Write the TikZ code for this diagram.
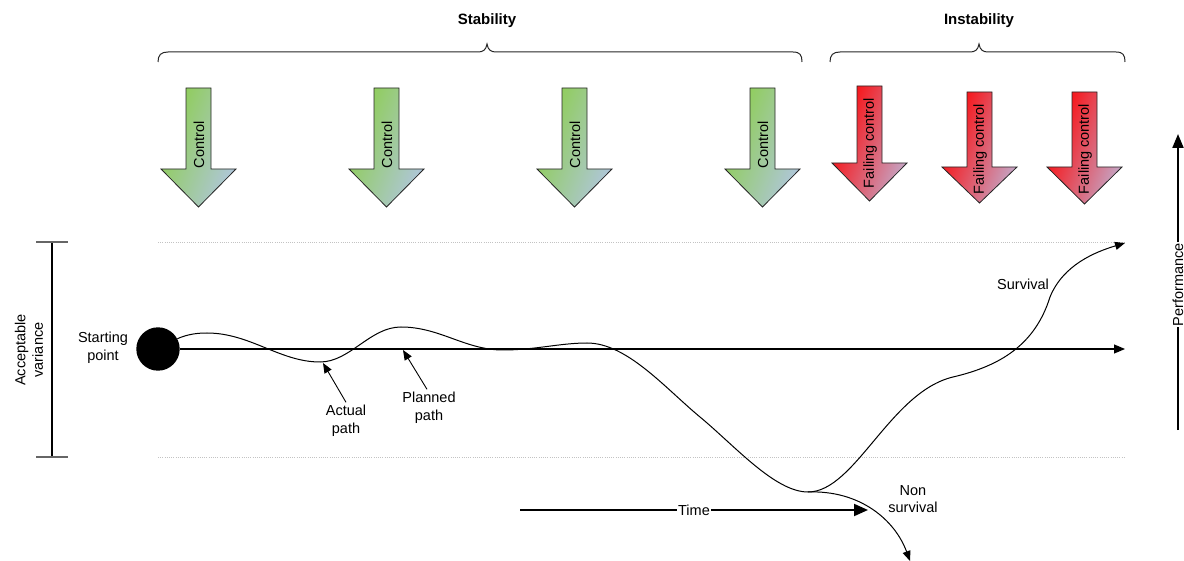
\documentclass[tikz,border=0pt]{standalone}
\usepackage{fontspec}
\setmainfont{Liberation Sans}
\usetikzlibrary{arrows.meta}
\definecolor{ctrlgreen}{RGB}{140,206,76}
\definecolor{ctrlgray}{RGB}{176,198,220}
\definecolor{failred}{RGB}{255,0,0}
\definecolor{failgray}{RGB}{196,168,200}
\definecolor{dotgray}{RGB}{195,195,195}
\tikzset{
  lbl/.style={font=\fontsize{14.5}{17.5}\selectfont, align=center, inner sep=1pt},
  headlbl/.style={font=\fontsize{15}{18}\selectfont\bfseries, inner sep=1pt},
  bracepath/.style={line width=1pt, black!85},
  guide/.style={dash pattern=on 1pt off 1.2pt, dotgray, line width=0.8pt},
  pathline/.style={line width=1pt, black},
  smalltip/.style={-{Triangle[length=10pt,width=8pt]}},
  pics/bigarrow/.style n args={5}{code={
    \shadedraw[draw=black!85, line width=0.8pt, left color=#3, right color=#4, shading angle=70]
      (-12.5,0) -- (12.5,0) -- (12.5,#1) -- (37.5,#1) -- (0,#2) -- (-37.5,#1) -- (-12.5,#1) -- cycle;
    \node[lbl, rotate=90] (-label) at (0.5,57) {#5};
  }}
}
\begin{document}
\begin{tikzpicture}[x=1pt,y=-1pt]
\useasboundingbox (0,0) rectangle (1184,561);

% braces and headings
\node[headlbl] (stab) at (487,21) {Stability};
\node[headlbl] (instab) at (979,21) {Instability};
\draw[bracepath] (158,62) .. controls (158,55) and (161,52) .. (168,52) -- (478,52)
  .. controls (483,52) and (486,50) .. (487,44) .. controls (488,50) and (491,52) .. (496,52)
  -- (793,52) .. controls (800,52) and (802,55) .. (802,62);
\draw[bracepath] (830,62) .. controls (830,55) and (833,52) .. (840,52) -- (970,52)
  .. controls (975,52) and (978,50) .. (979,44) .. controls (980,50) and (983,52) .. (988,52)
  -- (1116,52) .. controls (1123,52) and (1125,55) .. (1125,62);

% control arrows
\pic (c1) at (198.5,88) {bigarrow={81}{119}{ctrlgreen}{ctrlgray}{Control}};
\pic (c2) at (386.5,88) {bigarrow={81}{119}{ctrlgreen}{ctrlgray}{Control}};
\pic (c3) at (574.5,88) {bigarrow={81}{119}{ctrlgreen}{ctrlgray}{Control}};
\pic (c4) at (762.5,88) {bigarrow={81}{119}{ctrlgreen}{ctrlgray}{Control}};
\pic (f1) at (869.5,86) {bigarrow={77}{115}{failred}{failgray}{Failing control}};
\pic (f2) at (979.5,92) {bigarrow={75}{111}{failred}{failgray}{Failing control}};
\pic (f3) at (1084.5,92) {bigarrow={75}{112}{failred}{failgray}{Failing control}};

% acceptable variance guides
\draw[guide] (158,242) -- (1125,242);
\draw[guide] (158,457) -- (1125,457);
\coordinate (vtop) at (52,242);
\coordinate (vbot) at (52,457);
\draw[line width=1.2pt] (vtop) -- (vbot);
\draw[line width=2pt, black!60] (36,242) -- (68,242);
\draw[line width=2pt, black!60] (36,457) -- (68,457);
\node[lbl, rotate=90] (accvar) at (29,350) {Acceptable\\variance};

% starting point and planned path
\node[circle, fill=black, minimum size=43.4pt, inner sep=0pt] (start) at (158,349) {};
\node[lbl] (startlbl) at (103,348) {Starting\\point};
\coordinate (planEnd) at (1125,349);
\draw[line width=1.2pt, -{Triangle[length=11pt,width=9pt]}] (start.east) -- (planEnd);

% actual path
\coordinate (trough) at (808,492);
\draw[pathline] (start.28) .. controls (188,334) and (198,333) .. (207,333)
  .. controls (250,333) and (280,362) .. (320,362)
  .. controls (350,362) and (370,327) .. (401,327)
  .. controls (440,327) and (465,350) .. (503,350)
  .. controls (535,350) and (560,343) .. (587,343)
  .. controls (627,343) and (665,388) .. (700,417)
  .. controls (735,446) and (775,492) .. (trough);
\coordinate (survEnd) at (1125,243);
\draw[pathline, smalltip] (trough) .. controls (855,492) and (890,392) .. (953,377)
  .. controls (1000,366) and (1035,345) .. (1050,297)
  .. controls (1063,265) and (1095,252) .. (survEnd);
\coordinate (nonEnd) at (910,561);
\draw[pathline, smalltip] (trough) .. controls (860,490) and (895,520) .. (nonEnd);

% annotations
\node[lbl] (actual) at (346,421) {Actual\\path};
\coordinate (actualTip) at (323,363);
\draw[line width=0.9pt, smalltip] (actual.north) ++(0,-2) -- (actualTip);
\node[lbl] (planned) at (429,408) {Planned\\path};
\coordinate (plannedTip) at (403,350);
\draw[line width=0.9pt, smalltip] (planned.north) ++(-2,-2) -- (plannedTip);
\node[lbl] (surv) at (1023,284) {Survival};
\node[lbl] (nonsurv) at (913,499) {Non\\survival};

% time axis
\coordinate (t0) at (520,510);
\coordinate (t1) at (868,510);
\draw[line width=2pt, -{Triangle[length=14pt,width=12pt]}] (t0) -- node[lbl, fill=white, pos=0.5] (time) {Time} (t1);

% performance axis
\coordinate (p0) at (1178,430);
\coordinate (p1) at (1178,134);
\draw[line width=2pt, -{Triangle[length=14pt,width=11pt]}] (p0) -- node[lbl, fill=white, rotate=90, pos=0.49] (perf) {Performance} (p1);
\end{tikzpicture}
\end{document}
